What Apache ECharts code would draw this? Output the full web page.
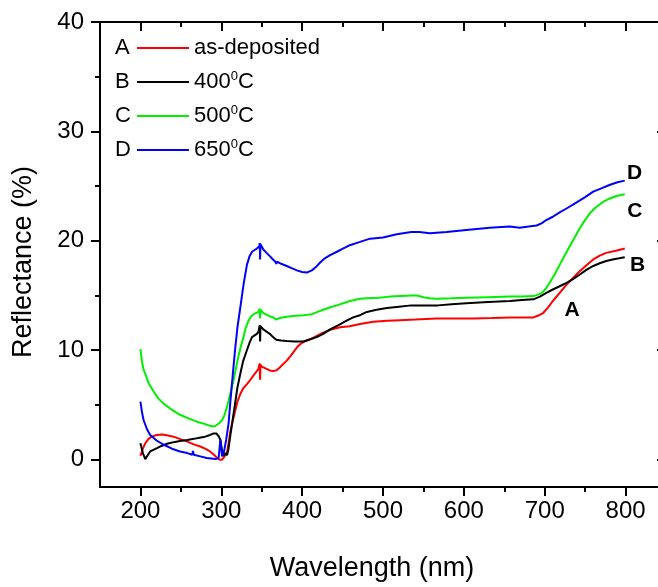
<!DOCTYPE html>
<html>
<head>
<meta charset="utf-8">
<title>Reflectance</title>
<script src="https://cdn.jsdelivr.net/npm/echarts/dist/echarts.min.js"></script>
<style>
  html, body { margin: 0; padding: 0; background: #fff; overflow: hidden; }
  /* the original figure is cut off at the right edge, so the chart is a bit wider than the window */
  #chart { width: 667px; height: 587px; }
</style>
</head>
<body>
<div id="chart"></div>
<script>
  // tick values
  var xMajor = [200, 300, 400, 500, 600, 700, 800];
  var xMinor = [250, 350, 450, 550, 650, 750];
  var yMajor = [0, 10, 20, 30, 40];
  var yMinor = [5, 15, 25, 35];

  var seriesNames = ["as-deposited", "400°C", "500°C", "650°C"];
  var seriesLetters = ["A", "B", "C", "D"];
  var seriesColors = ["#ff0000", "#000000", "#00f000", "#0000ff"];

  // [wavelength nm, reflectance %]
  var curveA = [
    [200, 0.35], [203, 1.0], [206, 1.5], [210, 1.9], [214, 2.1], [220, 2.25], [227, 2.3], [234, 2.2],
    [241, 2.1], [250, 1.85], [258, 1.65], [266, 1.4], [274, 1.2], [280, 1.0], [286, 0.75], [291, 0.45],
    [295, 0.15], [298, 0.0], [301, 0.0], [304, 0.3], [307, 0.6], [309, 1.5], [311, 2.5], [314, 3.5],
    [317, 4.4], [320, 5.3], [323.5, 6.0], [327, 6.5], [331.7, 6.9], [336, 7.3], [340, 7.7], [344, 8.1],
    [346, 8.3], [347.5, 8.8], [348, 7.3], [348.5, 8.7], [350, 8.5], [352, 8.45], [356, 8.3], [360, 8.15],
    [364, 8.1], [368, 8.15], [372, 8.4], [376, 8.7], [381, 9.05], [386, 9.5], [390, 9.9], [394, 10.3],
    [397.5, 10.55], [403, 10.8], [410, 11.0], [418, 11.3], [426, 11.6], [436, 11.9], [447, 12.1],
    [459, 12.2], [471.6, 12.4], [488, 12.6], [505, 12.7], [521, 12.75], [540, 12.8], [566, 12.9],
    [590, 12.9], [611, 12.9], [635, 12.95], [657, 13.0], [672, 13.0], [686, 13.0], [693, 13.2],
    [698, 13.4], [704, 13.9], [710, 14.5], [718, 15.2], [727, 16.0], [735, 16.6], [743, 17.2],
    [752, 17.8], [760, 18.3], [768, 18.65], [776, 18.9], [788, 19.1], [799, 19.3]
  ];
  var curveB = [
    [200, 1.5], [203, 0.6], [206, 0.05], [209, 0.4], [212, 0.75], [216, 0.9], [220.5, 1.05], [226, 1.25],
    [233, 1.45], [241, 1.6], [249, 1.7], [258, 1.8], [266, 1.9], [273, 2.0], [280, 2.1], [286, 2.25],
    [290.6, 2.4], [294, 2.4], [297, 2.1], [299, 1.8], [301, 0.8], [303, 0.35], [305, 0.6], [307, 0.4],
    [309, 1.0], [311, 2.1], [314, 3.6], [317, 5.1], [320, 6.6], [323.5, 7.85], [327, 9.0], [331.7, 10.0],
    [335, 10.7], [338, 11.2], [344, 11.5], [346, 11.7], [347.5, 12.3], [348, 10.8], [348.5, 12.2],
    [352, 11.9], [356, 11.7], [360, 11.5], [364, 11.2], [368, 10.95], [374, 10.9], [381, 10.85],
    [390, 10.8], [401.6, 10.8], [410, 11.0], [418, 11.2], [426, 11.5], [434.6, 11.9], [445, 12.3],
    [455, 12.7], [463, 13.0], [471.6, 13.2], [480, 13.5], [492, 13.7], [505, 13.85], [517, 13.95],
    [535, 14.1], [550, 14.1], [568, 14.1], [585, 14.2], [603, 14.3], [630, 14.4], [657, 14.5],
    [672, 14.6], [686, 14.65], [694, 14.9], [702, 15.25], [710, 15.55], [718.5, 15.85], [727, 16.15],
    [735, 16.5], [743, 16.9], [751.5, 17.35], [760, 17.7], [768, 17.95], [776, 18.15], [784, 18.3],
    [792, 18.4], [799, 18.5]
  ];
  var curveC = [
    [200, 10.1], [202, 8.9], [204, 8.2], [206, 7.85], [210, 7.0], [216.5, 6.2], [222, 5.6], [229, 5.1],
    [238, 4.6], [249, 4.1], [260, 3.75], [270, 3.47], [280, 3.25], [288, 3.05], [292, 3.05], [297, 3.3],
    [301, 3.6], [304, 4.1], [307, 4.8], [311, 6.0], [315, 7.2], [318, 8.3], [321, 9.35], [324, 10.3],
    [327.5, 11.2], [330, 12.0], [333.7, 12.7], [337, 13.1], [340, 13.3], [346, 13.5], [347.5, 13.8],
    [348, 12.9], [348.5, 13.7], [352, 13.4], [356, 13.25], [360, 13.1], [364, 13.0], [368, 12.8],
    [372, 12.95], [381, 13.07], [392, 13.15], [401.6, 13.2], [412, 13.3], [419, 13.5], [426, 13.7],
    [434, 13.9], [443, 14.1], [459, 14.5], [471.6, 14.7], [480, 14.75], [495, 14.8], [508.6, 14.9],
    [522, 14.95], [535, 15.0], [542, 15.0], [550, 14.85], [558, 14.75], [566, 14.7], [585, 14.75],
    [603, 14.8], [630, 14.85], [657, 14.9], [672, 14.9], [686, 14.95], [696, 15.2], [701, 15.6],
    [706, 16.15], [712, 16.9], [718.5, 17.8], [725, 18.7], [731, 19.5], [737, 20.3], [743, 21.1],
    [749, 21.8], [755.6, 22.5], [763, 23.05], [772, 23.55], [780, 23.85], [788.5, 24.1], [799, 24.25]
  ];
  var curveD = [
    [200, 5.3], [202, 4.3], [204, 3.6], [208, 2.8], [212, 2.26], [220, 1.75], [229, 1.36], [239, 1.0],
    [249, 0.75], [258, 0.6], [264, 0.45], [265, 0.8], [266, 0.45], [274, 0.3], [282, 0.15], [293, 0.05],
    [296.7, 0.15], [298.8, 1.8], [301, 0.3], [303, 0.6], [306, 1.8], [309, 3.3], [311, 5.1], [314, 7.6],
    [317, 10.0], [320, 12.1], [323.5, 13.9], [327.5, 16.0], [331.7, 17.8], [335, 18.6], [338, 19.0],
    [344, 19.3], [347, 19.5], [347.5, 19.8], [348, 18.3], [348.5, 19.7], [352, 19.2], [356, 18.9],
    [360, 18.6], [364, 18.3], [366.7, 18.1], [368, 17.9], [369, 18.1], [374, 17.9], [381, 17.7],
    [387, 17.5], [393.5, 17.3], [400, 17.15], [405.8, 17.1], [412, 17.3], [417, 17.6], [422, 18.0],
    [428, 18.4], [434.6, 18.7], [443, 19.0], [451, 19.3], [459, 19.6], [471.6, 19.9], [484, 20.2],
    [500, 20.3], [517, 20.6], [535, 20.8], [545, 20.8], [558, 20.7], [578.6, 20.8], [603, 21.0],
    [632, 21.2], [657, 21.3], [669, 21.2], [680, 21.3], [690, 21.4], [696, 21.6], [702, 21.9],
    [710, 22.2], [718.5, 22.6], [728, 23.0], [739, 23.5], [750, 24.0], [760, 24.5], [770, 24.8],
    [780, 25.1], [790, 25.35], [799, 25.5]
  ];
  // where the letters sit next to each curve
  var letterSpots = [[734, 13.7], [815, 17.75], [811.5, 22.7], [811, 26.2]];

  var curves = [curveA, curveB, curveC, curveD];
  var font = "Liberation Sans, Arial, sans-serif";

  function xAx(pos, ticks, len, inside, withLine, withLabel) {
    return {
      type: "value", position: pos, min: 150, max: 850,
      axisLine: {show: withLine, onZero: false, lineStyle: {color: "#000", width: 2}},
      axisTick: {show: true, inside: inside, length: len, customValues: ticks,
        lineStyle: {color: "#000", width: 2}},
      axisLabel: withLabel ? {show: true, customValues: ticks, fontSize: 24, color: "#000",
        fontFamily: font, margin: 12} : {show: false},
      splitLine: {show: false}
    };
  }

  function yAx(pos, ticks, len, inside, withLine, withLabel) {
    return {
      type: "value", position: pos, min: -2.5, max: 40,
      axisLine: {show: withLine, onZero: false, lineStyle: {color: "#000", width: 2}},
      axisTick: {show: true, inside: inside, length: len, customValues: ticks,
        lineStyle: {color: "#000", width: 2}},
      axisLabel: withLabel ? {show: true, customValues: ticks, fontSize: 24, color: "#000",
        fontFamily: font, margin: 16} : {show: false},
      splitLine: {show: false}
    };
  }

  var xAxes = [
    xAx("bottom", xMajor, 9, false, true, true),
    xAx("bottom", xMinor, 5, false, false, false),
    xAx("top", xMajor, 9, true, true, false),
    xAx("top", xMinor, 5, true, false, false)
  ];
  xAxes[0].name = "Wavelength (nm)";
  xAxes[0].nameLocation = "middle";
  xAxes[0].nameGap = 68;
  xAxes[0].nameTextStyle = {fontSize: 27, color: "#000", fontFamily: font, padding: [0, 22, 0, 0]};

  var yAxes = [
    yAx("left", yMajor, 9, false, true, true),
    yAx("left", yMinor, 5, false, false, false),
    yAx("right", yMajor, 9, true, true, false),
    yAx("right", yMinor, 5, true, false, false)
  ];
  yAxes[0].name = "Reflectance (%)";
  yAxes[0].nameLocation = "middle";
  yAxes[0].nameGap = 63;
  yAxes[0].nameTextStyle = {fontSize: 27, color: "#000", fontFamily: font, padding: [0, 15, 0, 0]};

  var series = curves.map(function (c, i) {
    return {
      name: seriesNames[i],
      type: "line",
      data: c,
      symbol: "none",
      xAxisIndex: 0,
      yAxisIndex: 0,
      lineStyle: {color: seriesColors[i], width: 2},
      itemStyle: {color: seriesColors[i]},
      markPoint: {
        symbol: "circle",
        symbolSize: 0,
        silent: true,
        label: {show: true, position: "inside", formatter: seriesLetters[i],
          fontSize: 21, fontWeight: "bold", color: "#000", fontFamily: font},
        data: [{coord: letterSpots[i]}]
      }
    };
  });

  var letters = seriesLetters.map(function (l, i) {
    return {
      type: "text", x: 115, y: 48 + i * 34,
      style: {text: l, fontSize: 22, fontFamily: font, fill: "#000", verticalAlign: "middle"}
    };
  });

  var myChart = echarts.init(document.getElementById("chart"));
  myChart.setOption({
    animation: false,
    backgroundColor: "#fff",
    grid: {left: 100, top: 22, right: 1, bottom: 96},
    legend: {
      orient: "vertical",
      left: 137,
      top: 36,
      padding: 0,
      icon: "rect",
      itemWidth: 52,
      itemHeight: 2,
      itemGap: 10,
      data: seriesNames,
      formatter: function (name) {
        return name.replace("°", "{sup|0}");
      },
      textStyle: {
        fontSize: 22, color: "#000", fontFamily: font, lineHeight: 24,
        rich: {sup: {fontSize: 13, lineHeight: 13, verticalAlign: "top", fontFamily: font, color: "#000"}}
      }
    },
    graphic: letters,
    xAxis: xAxes,
    yAxis: yAxes,
    series: series
  });
</script>
</body>
</html>
